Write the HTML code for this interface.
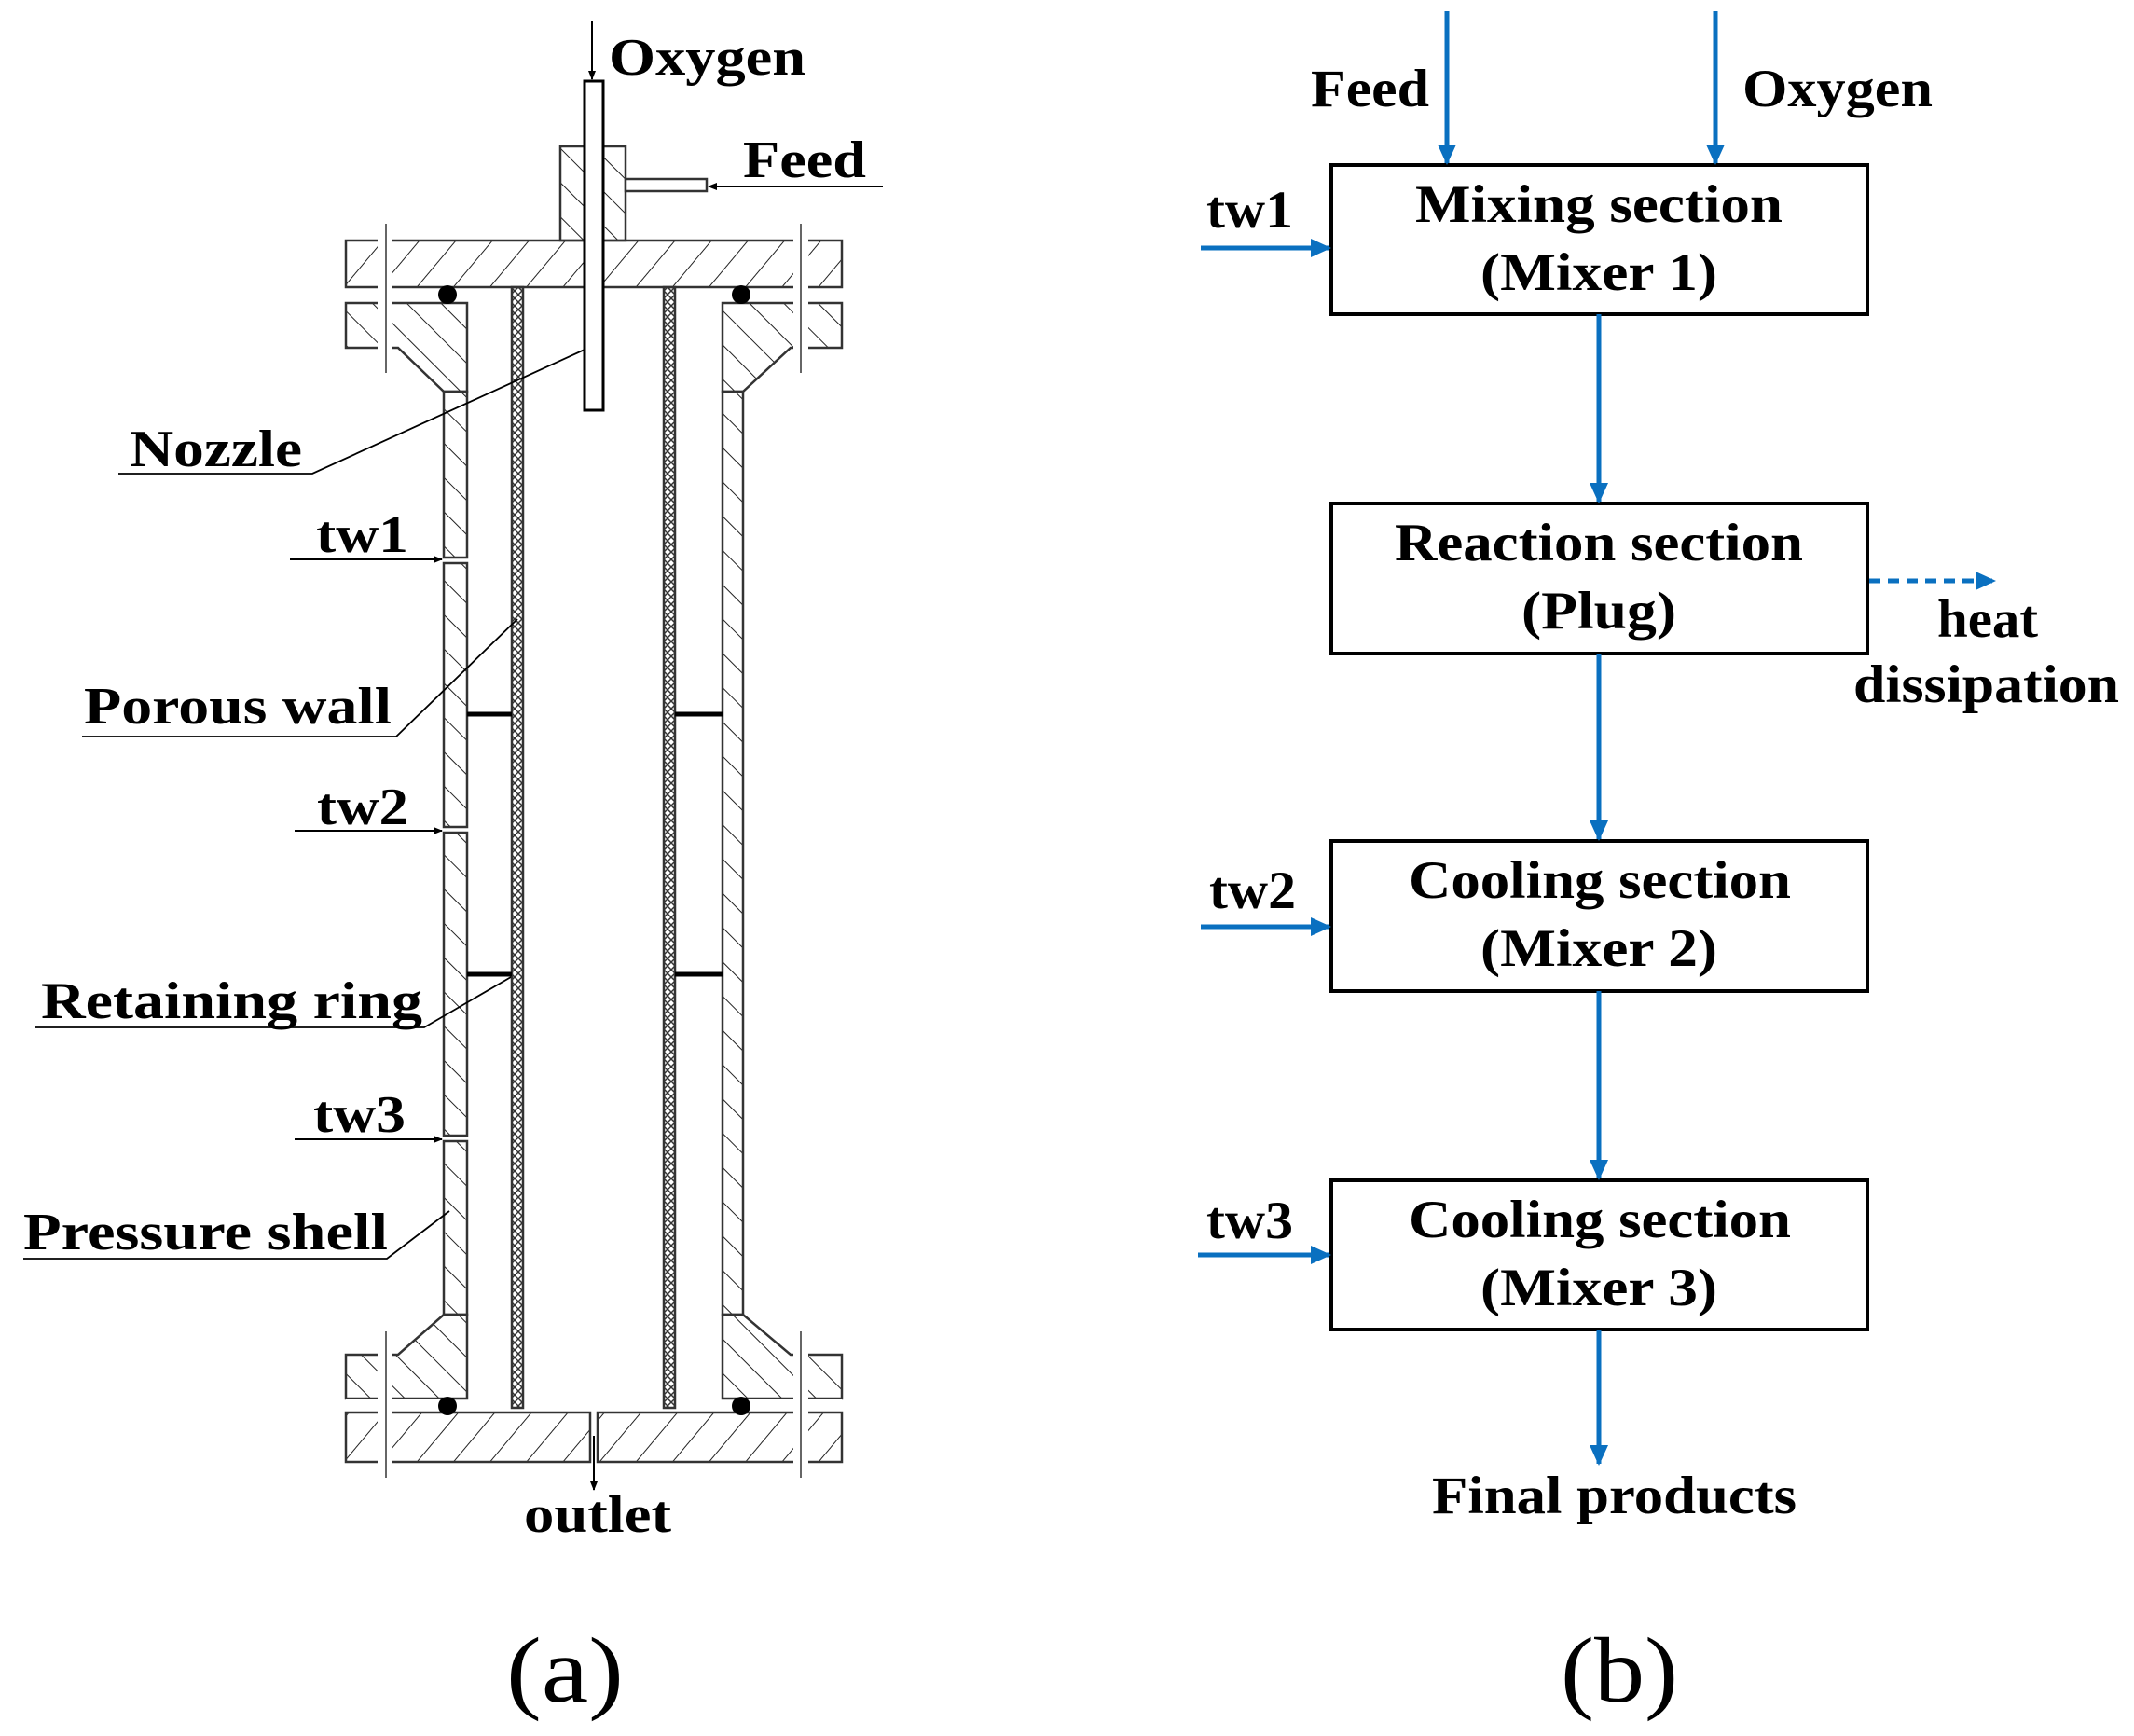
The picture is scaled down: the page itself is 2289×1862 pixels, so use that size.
<!DOCTYPE html>
<html><head><meta charset="utf-8"><style>
html,body{margin:0;padding:0;background:#fff;}
svg{display:block;}
text{font-family:"Liberation Serif",serif;font-weight:bold;fill:#000;}
</style></head><body>
<svg width="2289" height="1862" viewBox="0 0 2289 1862" xmlns="http://www.w3.org/2000/svg">
<defs>
<pattern id="h1" width="30" height="30" patternUnits="userSpaceOnUse" patternTransform="rotate(40)">
<line x1="0" y1="0" x2="0" y2="30" stroke="#222" stroke-width="2"/></pattern>
<pattern id="h2" width="26" height="26" patternUnits="userSpaceOnUse" patternTransform="rotate(-45)">
<line x1="0" y1="0" x2="0" y2="26" stroke="#222" stroke-width="2"/></pattern>
<pattern id="hx" width="8" height="8" patternUnits="userSpaceOnUse">
<path d="M0 0L8 8M8 0L0 8" stroke="#333" stroke-width="1.5"/></pattern>
<marker id="ab" markerWidth="10" markerHeight="10" refX="9" refY="5" orient="auto" markerUnits="userSpaceOnUse">
<path d="M0 1L10 5L0 9Z" fill="#000"/></marker>
<marker id="bb" markerWidth="22" markerHeight="20" refX="20" refY="10" orient="auto" markerUnits="userSpaceOnUse">
<path d="M0 0L22 10L0 20Z" fill="#0a70c0"/></marker>
</defs>

<g stroke="#333" stroke-width="2.5">
<rect x="371" y="258" width="532" height="50" fill="url(#h1)"/>
<rect x="601" y="157" width="70" height="101" fill="url(#h2)"/>
<rect x="671" y="192" width="87" height="13" fill="#fff"/>
<rect x="627" y="87" width="20" height="353" fill="#fff" stroke="#000" stroke-width="3"/>
<path d="M371 325H501V420H476L427 373H371Z" fill="url(#h2)"/>
<path d="M903 325H775V420H797L848 373H903Z" fill="url(#h2)"/>
<rect x="476" y="420" width="25" height="178" fill="url(#h2)"/>
<rect x="476" y="604" width="25" height="283" fill="url(#h2)"/>
<rect x="476" y="893" width="25" height="325" fill="url(#h2)"/>
<rect x="476" y="1224" width="25" height="186" fill="url(#h2)"/>
<rect x="775" y="420" width="22" height="990" fill="url(#h2)"/>
<rect x="549" y="308" width="12" height="1202" fill="url(#hx)"/>
<rect x="712" y="308" width="12" height="1202" fill="url(#hx)"/>
<path d="M371 1453H427L476 1410H501V1500H371Z" fill="url(#h2)"/>
<path d="M903 1453H848L797 1410H775V1500H903Z" fill="url(#h2)"/>
<rect x="371" y="1515" width="262" height="53" fill="url(#h1)"/>
<rect x="641" y="1515" width="262" height="53" fill="url(#h1)"/>
</g>
<g fill="#fff" stroke="none">
<rect x="405" y="256" width="16" height="120"/><rect x="851" y="256" width="16" height="120"/>
<rect x="405" y="1450" width="16" height="122"/><rect x="851" y="1450" width="16" height="122"/>
<rect x="371" y="311" width="105" height="12"/><rect x="800" y="311" width="103" height="12"/>
<rect x="371" y="1501" width="105" height="12"/><rect x="800" y="1501" width="103" height="12"/>
</g>
<g stroke="#333" stroke-width="1.5">
<line x1="414" y1="240" x2="414" y2="400"/><line x1="859" y1="240" x2="859" y2="400"/>
<line x1="414" y1="1428" x2="414" y2="1585"/><line x1="859" y1="1428" x2="859" y2="1585"/>
</g>
<g fill="#000">
<circle cx="480" cy="316" r="10"/><circle cx="795" cy="316" r="10"/>
<circle cx="480" cy="1508" r="10"/><circle cx="795" cy="1508" r="10"/>
</g>
<g stroke="#000" stroke-width="5">
<line x1="501" y1="766" x2="549" y2="766"/><line x1="724" y1="766" x2="775" y2="766"/>
<line x1="501" y1="1045" x2="549" y2="1045"/><line x1="724" y1="1045" x2="775" y2="1045"/>
</g>
<g stroke="#000" stroke-width="2" fill="none">
<line x1="635" y1="22" x2="635" y2="85" marker-end="url(#ab)"/>
<line x1="947" y1="200" x2="760" y2="200" marker-end="url(#ab)"/>
<line x1="637" y1="1540" x2="637" y2="1598" marker-end="url(#ab)"/>
<line x1="311" y1="600" x2="474" y2="600" marker-end="url(#ab)"/>
<line x1="316" y1="891" x2="474" y2="891" marker-end="url(#ab)"/>
<line x1="316" y1="1222" x2="474" y2="1222" marker-end="url(#ab)"/>
<polyline points="127,508 335,508 627,375" stroke-width="1.8"/>
<polyline points="88,790 425,790 555,664" stroke-width="1.8"/>
<polyline points="38,1102 455,1102 548,1048" stroke-width="1.8"/>
<polyline points="25,1350 415,1350 482,1299" stroke-width="1.8"/>
</g>
<g font-size="56" lengthAdjust="spacingAndGlyphs">
<text x="653" y="80" textLength="211" lengthAdjust="spacingAndGlyphs">Oxygen</text>
<text x="797" y="190" textLength="132" lengthAdjust="spacingAndGlyphs">Feed</text>
<text x="139" y="500" textLength="185" lengthAdjust="spacingAndGlyphs">Nozzle</text>
<text x="339" y="592" textLength="99" lengthAdjust="spacingAndGlyphs">tw1</text>
<text x="90" y="776" textLength="330" lengthAdjust="spacingAndGlyphs">Porous wall</text>
<text x="340" y="884" textLength="98" lengthAdjust="spacingAndGlyphs">tw2</text>
<text x="44" y="1092" textLength="409" lengthAdjust="spacingAndGlyphs">Retaining ring</text>
<text x="336" y="1214" textLength="99" lengthAdjust="spacingAndGlyphs">tw3</text>
<text x="25" y="1340" textLength="391" lengthAdjust="spacingAndGlyphs">Pressure shell</text>
<text x="562" y="1643" textLength="158" lengthAdjust="spacingAndGlyphs">outlet</text>
</g>
<text x="543" y="1825" font-size="100" textLength="126" lengthAdjust="spacingAndGlyphs" style="font-weight:normal">(a)</text>

<g stroke="#000" stroke-width="4" fill="#fff">
<rect x="1428" y="177" width="575" height="160"/>
<rect x="1428" y="540" width="575" height="161"/>
<rect x="1428" y="902" width="575" height="161"/>
<rect x="1428" y="1266" width="575" height="160"/>
</g>
<g stroke="#0a70c0" stroke-width="5" fill="none">
<line x1="1552" y1="12" x2="1552" y2="175" marker-end="url(#bb)"/>
<line x1="1840" y1="12" x2="1840" y2="175" marker-end="url(#bb)"/>
<line x1="1715" y1="337" x2="1715" y2="538" marker-end="url(#bb)"/>
<line x1="1715" y1="701" x2="1715" y2="900" marker-end="url(#bb)"/>
<line x1="1715" y1="1063" x2="1715" y2="1264" marker-end="url(#bb)"/>
<line x1="1715" y1="1426" x2="1715" y2="1570" marker-end="url(#bb)"/>
<line x1="1288" y1="266" x2="1426" y2="266" marker-end="url(#bb)"/>
<line x1="1288" y1="994" x2="1426" y2="994" marker-end="url(#bb)"/>
<line x1="1285" y1="1346" x2="1426" y2="1346" marker-end="url(#bb)"/>
<line x1="2005" y1="623" x2="2139" y2="623" stroke-dasharray="12,8" marker-end="url(#bb)"/>
</g>
<g font-size="57">
<text x="1406" y="114" textLength="127" lengthAdjust="spacingAndGlyphs">Feed</text>
<text x="1869" y="114" textLength="204" lengthAdjust="spacingAndGlyphs">Oxygen</text>
<text x="1294" y="244" textLength="93" lengthAdjust="spacingAndGlyphs">tw1</text>
<text x="1297" y="974" textLength="93" lengthAdjust="spacingAndGlyphs">tw2</text>
<text x="1294" y="1328" textLength="93" lengthAdjust="spacingAndGlyphs">tw3</text>
<text x="1518" y="238" textLength="394" lengthAdjust="spacingAndGlyphs">Mixing section</text>
<text x="1588" y="311" textLength="254" lengthAdjust="spacingAndGlyphs">(Mixer 1)</text>
<text x="1496" y="601" textLength="438" lengthAdjust="spacingAndGlyphs">Reaction section</text>
<text x="1632" y="674" textLength="166" lengthAdjust="spacingAndGlyphs">(Plug)</text>
<text x="1511" y="963" textLength="410" lengthAdjust="spacingAndGlyphs">Cooling section</text>
<text x="1588" y="1036" textLength="254" lengthAdjust="spacingAndGlyphs">(Mixer 2)</text>
<text x="1511" y="1327" textLength="410" lengthAdjust="spacingAndGlyphs">Cooling section</text>
<text x="1588" y="1400" textLength="254" lengthAdjust="spacingAndGlyphs">(Mixer 3)</text>
<text x="2078" y="683" textLength="108" lengthAdjust="spacingAndGlyphs">heat</text>
<text x="1988" y="753" textLength="285" lengthAdjust="spacingAndGlyphs">dissipation</text>
<text x="1536" y="1623" textLength="391" lengthAdjust="spacingAndGlyphs">Final products</text>
</g>
<text x="1674" y="1825" font-size="100" textLength="126" lengthAdjust="spacingAndGlyphs" style="font-weight:normal">(b)</text>
</svg>
</body></html>
